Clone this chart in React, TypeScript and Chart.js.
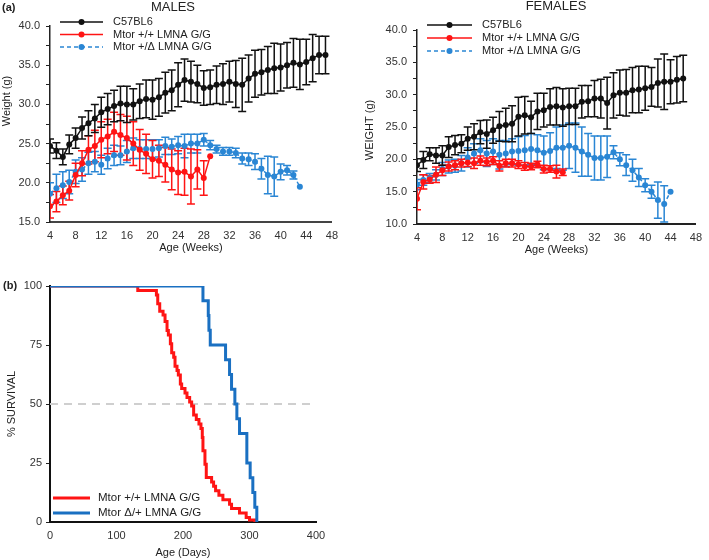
import React, { useEffect, useRef } from 'react';
import { Chart, registerables } from 'chart.js';

Chart.register(...registerables);

const FONT = '"Liberation Sans", Arial, Helvetica, sans-serif';

// ---------------- MALES ----------------
const maleWeeksC57 = [4,5,6,7,8,9,10,11,12,13,14,15,16,17,18,19,20,21,22,23,24,25,26,27,28,29,30,31,32,33,34,35,36,37,38,39,40,41,42,43,44,45,46,47];
const maleC57 = [24.7,24.1,23.3,24.9,25.7,27.0,27.6,28.2,29.0,29.4,29.8,30.1,30.0,30.0,30.4,30.7,30.6,30.9,31.5,31.8,32.5,33.1,32.9,32.6,32.1,32.2,32.5,32.6,32.9,32.6,32.5,33.3,33.9,34.1,34.4,34.6,34.7,35.0,35.3,35.1,35.4,35.9,36.3,36.3];
const maleC57Sd = [0.9,1.0,1.0,1.2,1.3,1.4,1.6,1.8,1.9,2.0,2.0,2.2,2.3,2.0,2.2,2.4,2.5,2.4,2.6,2.6,2.8,2.7,2.6,2.4,2.2,2.2,2.4,2.6,2.6,3.0,3.4,3.0,3.0,2.9,3.0,3.2,3.0,2.9,3.1,3.2,2.9,3.0,2.4,2.4];

const maleWeeksWT = [4,5,6,7,8,9,10,11,12,13,14,15,16,17,18,19,20,21,22,23,24,25,26,27,28,29];
const maleWT = [17.0,17.6,18.4,19.0,21.0,22.5,24.2,24.7,25.5,25.9,26.5,26.1,25.7,25.0,24.2,23.7,23.0,22.8,22.3,21.7,21.3,21.4,20.8,21.7,20.6,23.4];
const maleWTSd = [1.5,1.3,1.2,1.2,1.5,1.6,1.8,2.0,2.3,2.2,2.5,2.6,2.8,2.8,2.6,2.5,2.4,2.0,2.2,2.6,2.8,3.0,3.5,2.5,2.2,0];

const maleWeeksDelta = [4,5,6,7,8,9,10,11,12,13,14,15,16,17,18,19,20,21,22,23,24,25,26,27,28,29,30,31,32,33,34,35,36,37,38,39,40,41,42,43];
const maleDelta = [18.6,19.3,19.7,20.1,21.4,21.7,22.5,22.7,22.3,23.1,23.5,23.5,24.0,24.4,24.3,24.3,24.3,24.4,24.7,24.6,24.8,24.7,25.0,25.0,25.5,24.8,24.3,24.0,24.0,23.8,23.1,23.0,22.7,21.8,21.0,20.8,21.4,21.6,21.0,19.5];
const maleDeltaSd = [1.4,1.8,1.7,1.5,1.5,1.5,1.4,1.3,1.2,1.3,1.3,1.2,1.4,1.3,1.2,1.2,1.2,1.1,1.1,1.0,1.1,1.5,1.2,1.2,0.8,0.6,0.5,0.5,0.5,0.6,0.7,0.8,1.0,1.3,2.4,2.5,1.0,0.6,0.5,0];

// ---------------- FEMALES ----------------
const femaleWeeksC57 = [4,5,6,7,8,9,10,11,12,13,14,15,16,17,18,19,20,21,22,23,24,25,26,27,28,29,30,31,32,33,34,35,36,37,38,39,40,41,42,43,44,45,46];
const femaleC57 = [19.1,19.9,20.8,20.6,20.6,21.9,22.2,22.4,23.2,23.5,24.2,23.9,24.5,25.1,25.3,25.5,26.6,26.8,26.5,27.4,27.6,28.1,28.2,28.0,28.2,28.2,28.9,29.0,29.4,29.4,28.7,29.9,30.3,30.3,30.7,30.8,31.0,31.2,31.8,32.0,32.0,32.3,32.5];
const femaleC57Sd = [1.0,1.3,1.0,1.2,1.5,1.6,1.5,1.4,1.8,2.0,1.8,2.2,2.0,2.3,2.6,2.8,3.0,2.9,2.5,2.8,2.6,2.8,2.9,2.9,2.8,2.8,2.5,2.4,2.8,3.0,4.0,3.5,3.5,3.6,3.5,3.6,3.4,3.0,3.7,4.3,3.4,3.6,3.6];

const femaleWeeksWT = [4,5,6,7,8,9,10,11,12,13,14,15,16,17,18,19,20,21,22,23,24,25,26,27];
const femaleWT = [13.9,16.5,16.9,17.6,18.3,18.9,19.1,19.4,19.5,19.4,19.8,19.6,19.8,19.0,19.4,19.4,19.2,18.9,18.9,19.2,18.5,18.5,18.1,18.0];
const femaleWTSd = [1.7,1.1,0.6,1.2,0.8,0.7,0.7,0.6,0.6,0.8,0.7,0.6,0.6,0.8,0.6,0.6,0.6,0.6,0.5,0.5,0.6,0.5,1.0,0.5];

const femaleWeeksDelta = [4,5,6,7,8,9,10,11,12,13,14,15,16,17,18,19,20,21,22,23,24,25,26,27,28,29,30,31,32,33,34,35,36,37,38,39,40,41,42,43,44];
const femaleDelta = [16.1,16.8,17.1,17.6,18.5,18.9,19.0,19.4,20.3,20.9,21.4,20.9,21.2,20.7,20.9,21.2,21.3,21.4,21.6,21.4,21.0,21.3,21.8,21.8,22.1,21.8,21.2,20.7,20.2,20.2,20.4,21.1,20.0,19.1,18.3,17.2,16.0,15.0,13.7,13.1,15.0];
const femaleDeltaSd = [0.8,0.8,0.7,0.8,1.0,1.0,1.0,1.2,1.5,1.5,1.8,2.0,2.0,2.2,2.0,2.0,2.2,2.3,2.4,2.4,2.6,2.8,3.2,3.5,3.5,3.8,3.8,3.3,3.4,3.4,3.2,1.0,1.0,1.6,1.7,1.4,1.0,1.0,2.8,2.8,0];

// ---------------- SURVIVAL ----------------
const survRedDays = [0,132,160,162,165,170,173,176,178,181,183,186,188,191,193,196,198,203,206,210,213,216,220,224,227,229,230,233,235,243,246,249,254,260,270,273,285,295,300,308];
const survRedPct = [100,98.1,96.2,92.5,89.3,87.7,85.0,81.1,79.2,75.5,71.7,69.8,66.0,64.2,62.3,58.5,56.6,54.7,52.8,50.9,49.1,45.3,43.4,41.5,39.6,35.8,30.2,24.5,18.9,17.0,15.1,13.2,11.3,9.4,7.5,5.7,3.8,1.9,0.9,0];
const survBlueDays = [0,230,238,239,241,264,270,273,278,281,285,296,301,305,308,311];
const survBluePct = [100,93.75,87.5,81.25,75,68.75,62.5,56.25,50,43.75,37.5,25,18.75,12.5,6.25,0];
const medianLine = [50, 50];
const medianDays = [0, 400];

const weightLabels = ['C57BL6', 'Mtor +/+ LMNA G/G', 'Mtor +/\u0394 LMNA G/G'];
const survLabels = ['Mtor +/+ LMNA G/G', 'Mtor \u0394/+ LMNA G/G'];

const BLACK = '#111111';
const RED = '#ff1414';
const BLUE = '#2a86d4';
const SURV_BLUE = '#1a70c2';

type TextItem = { text: string; x: number; y: number; rot?: number; font: string; align?: CanvasTextAlign; color?: string };

function makeTextPlugin(items: TextItem[]) {
  return {
    id: 'extraText',
    afterDraw(chart: any) {
      const ctx = chart.ctx;
      for (const t of items) {
        ctx.save();
        ctx.translate(t.x, t.y);
        if (t.rot) ctx.rotate(t.rot);
        ctx.font = t.font;
        ctx.fillStyle = t.color || '#222';
        ctx.textAlign = t.align || 'center';
        ctx.textBaseline = 'middle';
        ctx.fillText(t.text, 0, 0);
        ctx.restore();
      }
    },
  };
}

type LegendCfg = {
  x0: number; x1: number; textX: number; y0: number; dy: number; lineWidth: number; dot: boolean; font: string;
  items: { label: string; color: string; dash?: number[] }[];
};

function makeLegendPlugin(cfg: LegendCfg) {
  return {
    id: 'customLegend',
    afterDraw(chart: any) {
      const ctx = chart.ctx;
      ctx.save();
      cfg.items.forEach((it, k) => {
        const y = cfg.y0 + k * cfg.dy;
        ctx.strokeStyle = it.color;
        ctx.lineWidth = cfg.lineWidth;
        ctx.setLineDash(it.dash || []);
        ctx.beginPath();
        ctx.moveTo(cfg.x0, y);
        ctx.lineTo(cfg.x1, y);
        ctx.stroke();
        ctx.setLineDash([]);
        if (cfg.dot) {
          ctx.fillStyle = it.color;
          ctx.beginPath();
          ctx.arc((cfg.x0 + cfg.x1) / 2, y, 3, 0, Math.PI * 2);
          ctx.fill();
        }
        ctx.fillStyle = '#222';
        ctx.font = cfg.font;
        ctx.textAlign = 'left';
        ctx.textBaseline = 'middle';
        ctx.fillText(it.label, cfg.textX, y);
      });
      ctx.restore();
    },
  };
}

const errorBarPlugin = {
  id: 'errorBars',
  beforeDatasetsDraw(chart: any) {
    const { ctx, chartArea, scales } = chart;
    const yScale = scales.y;
    ctx.save();
    ctx.beginPath();
    ctx.rect(chartArea.left, chartArea.top, chartArea.right - chartArea.left, chartArea.bottom - chartArea.top + 1);
    ctx.clip();
    const n = chart.data.datasets.length;
    for (let i = n - 1; i >= 0; i--) {
      const ds = chart.data.datasets[i];
      if (!ds.errors) continue;
      const meta = chart.getDatasetMeta(i);
      ctx.strokeStyle = ds.errorColor || ds.borderColor;
      ctx.lineWidth = 1.5;
      ctx.setLineDash([]);
      meta.data.forEach((pt: any, j: number) => {
        const e = ds.errors[j];
        if (!e) return;
        const v = ds.data[j].y;
        const top = yScale.getPixelForValue(v + e);
        const bot = yScale.getPixelForValue(v - e);
        ctx.beginPath();
        ctx.moveTo(pt.x, top);
        ctx.lineTo(pt.x, bot);
        ctx.moveTo(pt.x - 4, top);
        ctx.lineTo(pt.x + 4, top);
        ctx.moveTo(pt.x - 4, bot);
        ctx.lineTo(pt.x + 4, bot);
        ctx.stroke();
      });
    }
    ctx.restore();
  },
};

function weightSeries(label: string, weeks: number[], vals: number[], sds: number[], color: string, dash: number[] = []) {
  return {
    label,
    data: weeks.map((w, i) => ({ x: w, y: vals[i] })),
    errors: sds,
    borderColor: color,
    backgroundColor: color,
    pointBackgroundColor: color,
    pointBorderColor: color,
    pointBorderWidth: 0,
    pointRadius: 3,
    borderWidth: 1.5,
    borderDash: dash,
    tension: 0,
  } as any;
}

const tickFont = { family: FONT, size: 11 };

function weightOptions(o: { yMin: number; yMax: number; padTop: number; padRight: number; yWidth: number; xHeight: number; xTickPad: number; xTitlePad: number; xBorderColor: string }) {
  return {
    animation: false,
    responsive: false,
    maintainAspectRatio: false,
    layout: { padding: { left: 0, top: o.padTop, right: o.padRight, bottom: 0 } },
    plugins: { legend: { display: false }, tooltip: { enabled: false }, title: { display: false } },
    scales: {
      x: {
        type: 'linear',
        min: 4,
        max: 48,
        afterFit: (s: any) => { s.height = o.xHeight; },
        grid: { display: false, drawTicks: false, tickLength: 0 },
        border: { display: true, color: o.xBorderColor, width: 2 },
        ticks: { stepSize: 4, autoSkip: false, maxRotation: 0, padding: o.xTickPad, color: '#333', font: tickFont },
        title: { display: true, text: 'Age (Weeks)', color: '#222', font: { family: FONT, size: 11 }, padding: { top: 0, bottom: o.xTitlePad } },
      },
      y: {
        type: 'linear',
        min: o.yMin,
        max: o.yMax,
        afterFit: (s: any) => { s.width = o.yWidth; },
        grid: { display: true, drawOnChartArea: false, drawTicks: true, tickLength: 4, color: '#222', lineWidth: 1 },
        border: { display: true, color: '#222', width: 1.5 },
        ticks: {
          stepSize: 2.5,
          autoSkip: false,
          padding: 6,
          color: '#333',
          font: tickFont,
          callback: (v: any) => (Math.abs(v % 5) < 1e-6 ? Number(v).toFixed(1) : ''),
        },
      },
    },
  } as any;
}

function ChartBox({ left, top, width, height, make }: { left: number; top: number; width: number; height: number; make: (c: HTMLCanvasElement) => Chart }) {
  const ref = useRef<HTMLCanvasElement | null>(null);
  useEffect(() => {
    if (!ref.current) return;
    const chart = make(ref.current);
    return () => chart.destroy();
  }, []);
  return (
    <canvas
      ref={ref}
      width={width}
      height={height}
      style={{ position: 'absolute', left, top, width, height, display: 'block' }}
    />
  );
}

function makeMales(canvas: HTMLCanvasElement) {
  return new Chart(canvas, {
    type: 'line',
    data: {
      datasets: [
        weightSeries(weightLabels[0], maleWeeksC57, maleC57, maleC57Sd, BLACK),
        weightSeries(weightLabels[1], maleWeeksWT, maleWT, maleWTSd, RED),
        weightSeries(weightLabels[2], maleWeeksDelta, maleDelta, maleDeltaSd, BLUE, [4, 3]),
      ],
    },
    options: weightOptions({ yMin: 15, yMax: 40, padTop: 26, padRight: 9, yWidth: 50, xHeight: 43, xTickPad: 7, xTitlePad: 10, xBorderColor: '#444' }),
    plugins: [
      errorBarPlugin,
      makeLegendPlugin({
        x0: 60, x1: 103, textX: 113, y0: 22, dy: 12.5, lineWidth: 1.5, dot: true, font: `11px ${FONT}`,
        items: [
          { label: weightLabels[0], color: BLACK },
          { label: weightLabels[1], color: RED },
          { label: weightLabels[2], color: BLUE, dash: [4, 3] },
        ],
      }),
      makeTextPlugin([
        { text: 'MALES', x: 173, y: 7, font: `13px ${FONT}` },
        { text: '(a)', x: 2, y: 8, font: `bold 11px ${FONT}`, align: 'left' },
        { text: 'Weight (g)', x: 7, y: 101, rot: -Math.PI / 2, font: `11px ${FONT}` },
      ]),
    ],
  } as any);
}

function makeFemales(canvas: HTMLCanvasElement) {
  return new Chart(canvas, {
    type: 'line',
    data: {
      datasets: [
        weightSeries(weightLabels[0], femaleWeeksC57, femaleC57, femaleC57Sd, BLACK),
        weightSeries(weightLabels[1], femaleWeeksWT, femaleWT, femaleWTSd, RED),
        weightSeries(weightLabels[2], femaleWeeksDelta, femaleDelta, femaleDeltaSd, BLUE, [4, 3]),
      ],
    },
    options: weightOptions({ yMin: 10, yMax: 40, padTop: 30, padRight: 7, yWidth: 62, xHeight: 41, xTickPad: 7, xTitlePad: 8, xBorderColor: '#222' }),
    plugins: [
      errorBarPlugin,
      makeLegendPlugin({
        x0: 72, x1: 117, textX: 127, y0: 25, dy: 13, lineWidth: 1.5, dot: true, font: `11px ${FONT}`,
        items: [
          { label: weightLabels[0], color: BLACK },
          { label: weightLabels[1], color: RED },
          { label: weightLabels[2], color: BLUE, dash: [4, 3] },
        ],
      }),
      makeTextPlugin([
        { text: 'FEMALES', x: 201, y: 6, font: `13px ${FONT}` },
        { text: 'WEIGHT (g)', x: 15, y: 130, rot: -Math.PI / 2, font: `11px ${FONT}` },
      ]),
    ],
  } as any);
}

function makeSurvival(canvas: HTMLCanvasElement) {
  return new Chart(canvas, {
    type: 'line',
    data: {
      datasets: [
        {
          label: survLabels[1],
          data: survBlueDays.map((d, i) => ({ x: d, y: survBluePct[i] })),
          borderColor: SURV_BLUE,
          borderWidth: 3,
          pointRadius: 0,
          stepped: 'before',
          clip: 0,
        },
        {
          label: survLabels[0],
          data: survRedDays.map((d, i) => ({ x: d, y: survRedPct[i] })),
          borderColor: RED,
          borderWidth: 3,
          pointRadius: 0,
          stepped: 'before',
          clip: 0,
        },
        {
          label: 'median',
          data: medianDays.map((d, i) => ({ x: d, y: medianLine[i] })),
          borderColor: '#cfcfcf',
          borderWidth: 2,
          borderDash: [8, 6],
          pointRadius: 0,
        },
      ],
    },
    options: {
      animation: false,
      responsive: false,
      maintainAspectRatio: false,
      layout: { padding: { left: 0, top: 16, right: 29, bottom: 0 } },
      plugins: { legend: { display: false }, tooltip: { enabled: false } },
      scales: {
        x: {
          type: 'linear',
          min: 0,
          max: 400,
          afterFit: (s: any) => { s.height = 38; },
          grid: { display: false, drawTicks: false, tickLength: 0 },
          border: { display: true, color: '#111', width: 2 },
          ticks: { stepSize: 100, autoSkip: false, maxRotation: 0, padding: 7, color: '#333', font: tickFont },
          title: { display: true, text: 'Age (Days)', color: '#222', font: { family: FONT, size: 11 }, padding: { top: 0, bottom: 0 } },
        },
        y: {
          type: 'linear',
          min: 0,
          max: 100,
          afterFit: (s: any) => { s.width = 50; },
          grid: { display: true, drawOnChartArea: false, drawTicks: true, tickLength: 4, color: '#222', lineWidth: 1 },
          border: { display: true, color: '#111', width: 2 },
          ticks: { stepSize: 25, autoSkip: false, padding: 4, color: '#333', font: tickFont },
        },
      },
    },
    plugins: [
      makeLegendPlugin({
        x0: 53, x1: 90, textX: 98, y0: 228, dy: 15, lineWidth: 3, dot: false, font: `11.5px ${FONT}`,
        items: [
          { label: survLabels[0], color: RED },
          { label: survLabels[1], color: SURV_BLUE },
        ],
      }),
      makeTextPlugin([
        { text: '(b)', x: 3, y: 16, font: `bold 11px ${FONT}`, align: 'left' },
        { text: '% SURVIVAL', x: 12, y: 134, rot: -Math.PI / 2, font: `11px ${FONT}` },
      ]),
    ],
  } as any);
}

export default function App() {
  return (
    <div style={{ position: 'absolute', left: 0, top: 0, width: 709, height: 560, background: '#ffffff', overflow: 'hidden' }}>
      <ChartBox left={0} top={0} width={345} height={265} make={makeMales} />
      <ChartBox left={355} top={0} width={354} height={265} make={makeFemales} />
      <ChartBox left={0} top={270} width={345} height={290} make={makeSurvival} />
    </div>
  );
}
